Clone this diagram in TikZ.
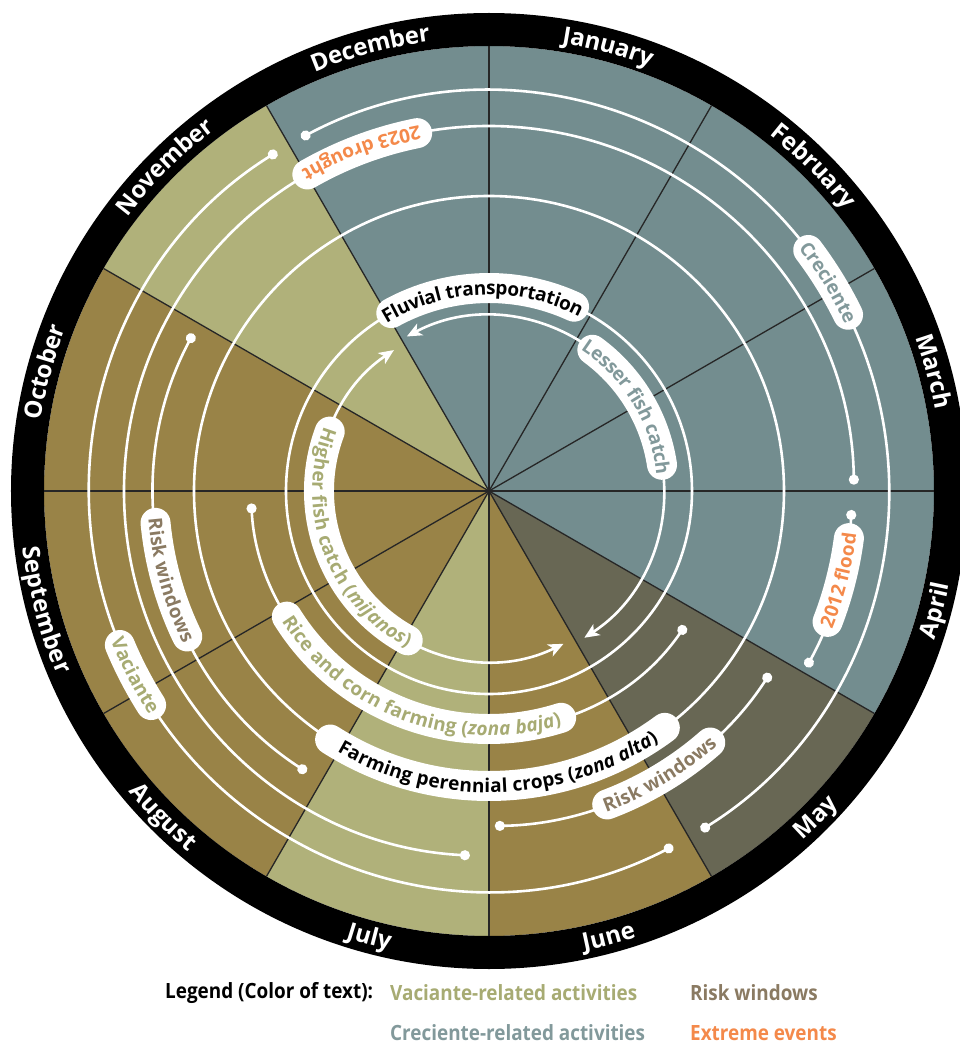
\documentclass[tikz,border=0pt]{standalone}
\usepackage{fontspec}
\setmainfont{Open Sans}
\newfontfamily\legendfont[FakeStretch=0.9]{Open Sans}
\usetikzlibrary{arrows.meta, decorations.text}

\definecolor{creFill}{HTML}{738D8F}
\definecolor{vacFill}{HTML}{B0B17A}
\definecolor{lowFill}{HTML}{998347}
\definecolor{mayFill}{HTML}{686754}
\definecolor{creText}{HTML}{82999B}
\definecolor{vacText}{HTML}{A7AB73}
\definecolor{riskText}{HTML}{8A7A62}
\definecolor{extText}{HTML}{F4894A}

\newcommand{\monthfont}{\bfseries\fontsize{24}{24}\selectfont\color{white}}
\newcommand{\lblfont}{\bfseries\fontsize{19}{19}\selectfont}
% white tag bent along a ring: radius, middle angle, turn (1 = ccw, -1 = cw), half span (deg), colour, text on the path
\newcommand{\ringtag}[6]{%
  \pgfmathsetmacro{\tagA}{#2-(#3)*(#4-15/(#1)*180/pi)}%
  \pgfmathsetmacro{\tagB}{#2+(#3)*(#4-15/(#1)*180/pi)}%
  \pgfmathsetmacro{\txtA}{#2-(#3)*(#4+20)}%
  \pgfmathsetmacro{\txtB}{#2+(#3)*(#4+20)}%
  \draw[pill] (\tagA:#1) arc[start angle=\tagA, end angle=\tagB, radius=#1];
  \path[decorate, decoration={text along path, text align=center, raise=-6.8pt,
      text={|\lblfont\color{#5}|#6}}] (\txtA:#1) arc[start angle=\txtA, end angle=\txtB, radius=#1];
}

\begin{document}
\begin{tikzpicture}[x=1pt, y=1pt,
    flow/.style={white, line width=2.6pt},
    dots/.style={flow, {Circle[length=10pt]}-{Circle[length=10pt]}},
    twoway/.style={flow, {Stealth[length=15pt, width=13pt, inset=4pt]}-{Stealth[length=15pt, width=13pt, inset=4pt]}},
    pill/.style={white, line width=30pt, line cap=round},
    divider/.style={draw=black!85, line width=1.3pt},
    legend/.style={font=\legendfont\bfseries\fontsize{21}{21}\selectfont, inner sep=0pt, anchor=west}]
    \useasboundingbox (-489,-556) rectangle (470,491);
    \fill[white] (-489,-556) rectangle (470,491);

    % Months
    \foreach \col [count=\k from 0] in {creFill,creFill,creFill,creFill,mayFill,lowFill,vacFill,lowFill,lowFill,lowFill,vacFill,creFill}
        \fill[\col] (0,0) -- (90-30*\k:445) arc[start angle=90-30*\k, end angle=60-30*\k, radius=445] -- cycle;
    \foreach \k in {0,...,11}
        \draw[divider] (0,0) -- (90-30*\k:445);
    \draw[line width=33pt] (0,0) circle[radius=461.5];
    \foreach \mname [count=\k from 0] in {January,February,March,April,May,June,July,August,September,October,November,December} {
        \pgfmathsetmacro{\mdir}{(\k>2 && \k<9) ? 1 : -1}
        \pgfmathsetmacro{\ma}{75-30*\k-\mdir*14}
        \pgfmathsetmacro{\mb}{75-30*\k+\mdir*14}
        \path[decorate, decoration={text along path, text align=center, raise=-8pt,
            text/.expanded={|\noexpand\monthfont|\mname}}] (\ma:461.5) arc[start angle=\ma, end angle=\mb, radius=461.5];
    }

    % Rings of activities
    \draw[flow] (0,0) circle[radius=203];
    \draw[flow] (0,0) circle[radius=295];
    \draw[twoway] (118:175) arc[start angle=118, end angle=-57, radius=175];
    \draw[twoway] (296:170) arc[start angle=296, end angle=124, radius=170];
    \draw[dots] (325.5:238) arc[start angle=325.5, end angle=183, radius=238];
    \draw[dots] (237:335) arc[start angle=237, end angle=152, radius=335];
    \draw[dots] (327:335) arc[start angle=327, end angle=271, radius=335];
    \draw[dots] (-3:363) arc[start angle=-3, end angle=-29, radius=363];
    \draw[dots] (267:365) arc[start angle=267, end angle=1, radius=365];
    \draw[dots] (118:400) arc[start angle=118, end angle=-58, radius=400];
    \draw[dots] (297.4:400) arc[start angle=297.4, end angle=122, radius=400];

    % Tags
    \ringtag{203}{92}{-1}{31}{black}{Fluvial transportation}
    \ringtag{175}{31.2}{-1}{27.5}{creText}{Lesser fish catch}
    \ringtag{400}{31.6}{-1}{7.6}{creText}{Creciente}
    \ringtag{363}{-14.3}{1}{9.2}{extText}{2012 flood}
    \ringtag{365}{110.6}{1}{11.6}{extText}{2023 drought}
    \ringtag{170}{200.5}{1}{46}{vacText}{Higher fish catch (|+\itshape|mijanos|+\upshape|)}
    \ringtag{238}{249.75}{1}{41.5}{vacText}{Rice and corn farming (|+\itshape|zona baja|+\upshape|)}
    \ringtag{295}{272}{1}{37.5}{black}{Farming perennial crops (|+\itshape|zona alta|+\upshape|)}
    \ringtag{335}{195.6}{1}{12.7}{riskText}{Risk windows}
    \ringtag{335}{301}{1}{12.9}{riskText}{Risk windows}
    \ringtag{400}{207.5}{1}{7}{vacText}{Vaciante}

    % Legend
    \node[legend] (legtitle) at (-324,-502) {Legend (Color of text):};
    \node[legend, text=vacText] (legvac) at (-99,-502) {Vaciante-related activities};
    \node[legend, text=riskText] (legrisk) at (201,-502) {Risk windows};
    \node[legend, text=creText] (legcre) at (-99,-542) {Creciente-related activities};
    \node[legend, text=extText] (legext) at (201,-542) {Extreme events};
\end{tikzpicture}
\end{document}
